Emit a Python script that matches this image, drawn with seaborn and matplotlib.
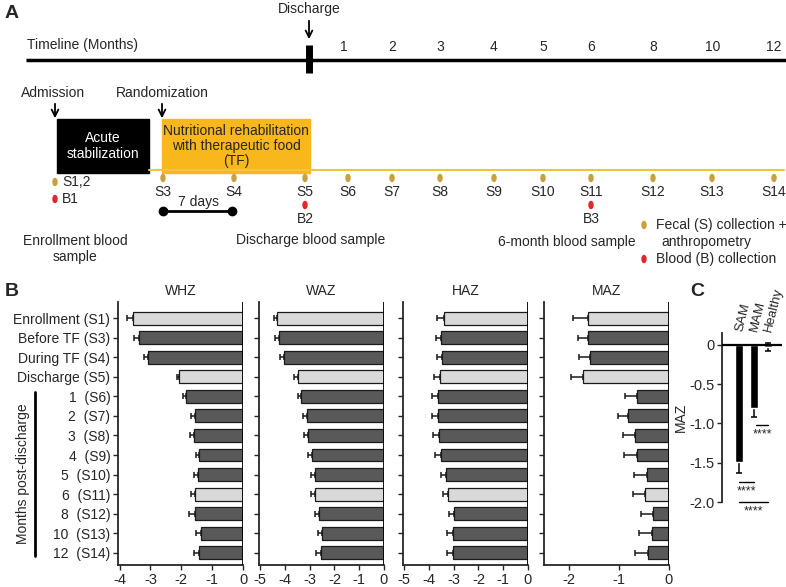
import numpy as np
import pandas as pd
import seaborn as sns
import matplotlib.pyplot as plt
from matplotlib.patches import Rectangle, Ellipse

# ---- data (panel B) ----
visits = ["Enrollment (S1)", "Before TF (S3)", "During TF (S4)", "Discharge (S5)",
          "1  (S6)", "2  (S7)", "3  (S8)", "4  (S9)", "5  (S10)", "6  (S11)",
          "8  (S12)", "10  (S13)", "12  (S14)"]
light_visits = ["Enrollment (S1)", "Discharge (S5)", "6  (S11)"]

whz = [-3.57, -3.38, -3.09, -2.07, -1.85, -1.55, -1.58, -1.42, -1.45, -1.55, -1.56, -1.37, -1.42]
whz_err = [0.20, 0.14, 0.13, 0.08, 0.11, 0.14, 0.13, 0.11, 0.13, 0.14, 0.18, 0.16, 0.18]

waz = [-4.33, -4.26, -4.06, -3.49, -3.36, -3.12, -3.08, -2.92, -2.79, -2.79, -2.63, -2.52, -2.56]
waz_err = [0.13, 0.13, 0.16, 0.13, 0.13, 0.16, 0.17, 0.17, 0.17, 0.17, 0.16, 0.16, 0.20]

haz = [-3.40, -3.50, -3.47, -3.54, -3.64, -3.63, -3.60, -3.51, -3.33, -3.22, -2.99, -3.02, -3.02]
haz_err = [0.27, 0.22, 0.20, 0.27, 0.23, 0.24, 0.23, 0.23, 0.20, 0.22, 0.19, 0.24, 0.24]

maz = [-1.63, -1.63, -1.59, -1.73, -0.63, -0.81, -0.67, -0.63, -0.44, -0.47, -0.31, -0.34, -0.42]
maz_err = [0.29, 0.20, 0.22, 0.23, 0.24, 0.20, 0.25, 0.26, 0.25, 0.24, 0.25, 0.25, 0.25]

# ---- data (panel C) ----
groups = ["SAM", "MAM", "Healthy"]
maz_group = [-1.49, -0.80, -0.03]
maz_group_err_low = [0.14, 0.12, 0.05]
maz_group_err_high = [0.0, 0.0, 0.05]

# ---- data (panel A timeline) ----
month_labels = ["1", "2", "3", "4", "5", "6", "8", "10", "12"]
sample_labels = ["S3", "S4", "S5", "S6", "S7", "S8", "S9", "S10", "S11", "S12", "S13", "S14"]

sns.set_style("ticks")
plt.rcParams["font.family"] = ["Liberation Sans", "DejaVu Sans"]
plt.rcParams["axes.unicode_minus"] = False
plt.rcParams["font.size"] = 10

fig = plt.figure(figsize=(7.86, 5.87), dpi=100)

# overlay in pixel units for the schematic and panel letters
ov = fig.add_axes([0, 0, 1, 1])
ov.set_xlim(0, 786)
ov.set_ylim(587, 0)
ov.axis("off")
ov.patch.set_alpha(0)

gold = "#c9a03c"
red = "#e3262b"
amber = "#f7b71d"

# panel letters
ov.text(5, 13, "A", fontsize=14, fontweight="bold", va="center")
ov.text(5, 292, "B", fontsize=14, fontweight="bold", va="center")
ov.text(690, 292, "C", fontsize=14, fontweight="bold", va="center")

# timeline
month_x = [344, 392, 440, 494, 543, 591, 653, 713, 774]
ov.plot([26, 786], [60, 60], color="black", lw=2.5, solid_capstyle="butt")
ov.plot([309, 309], [45, 73], color="black", lw=5, solid_capstyle="butt")
ov.text(27, 45, "Timeline (Months)", ha="left", va="center")
for lab, x in zip(month_labels, month_x):
    ov.text(x, 47, lab, ha="center", va="center")
ov.text(309, 9, "Discharge", ha="center", va="center")
ov.annotate("", xy=(309, 42), xytext=(309, 18),
            arrowprops=dict(arrowstyle="->", color="black", lw=1.3, mutation_scale=12))

# admission / randomization
ov.text(53, 93, "Admission", ha="center", va="center")
ov.annotate("", xy=(55, 121), xytext=(55, 101),
            arrowprops=dict(arrowstyle="->", color="black", lw=1.3, mutation_scale=12))
ov.text(162, 93, "Randomization", ha="center", va="center")
ov.annotate("", xy=(162, 121), xytext=(162, 101),
            arrowprops=dict(arrowstyle="->", color="black", lw=1.3, mutation_scale=12))

ov.plot([149, 784], [170, 170], color="#f2c342", lw=1.5)
ov.add_patch(Rectangle((57, 119), 92, 54, color="black"))
ov.text(103, 146, "Acute\nstabilization", color="white", ha="center", va="center",
        linespacing=1.2)
ov.add_patch(Rectangle((162, 119), 148, 54, color=amber))
ov.text(236, 146, "Nutritional rehabilitation\nwith therapeutic food\n(TF)",
        ha="center", va="center", linespacing=1.05)

# samples
sample_x = [163, 234, 305, 348, 392, 440, 494, 543, 591, 653, 712, 774]
ov.add_patch(Ellipse((55, 182), 4, 7, color=gold))
ov.text(62, 182, "S1,2", ha="left", va="center")
ov.add_patch(Ellipse((55, 199), 4, 7, color=red))
ov.text(62, 199, "B1", ha="left", va="center")
for lab, x in zip(sample_labels, sample_x):
    ov.add_patch(Ellipse((x, 178), 4, 7, color=gold))
    ov.text(x, 192, lab, ha="center", va="center")
for lab, x in [("B2", 305), ("B3", 591)]:
    ov.add_patch(Ellipse((x, 205), 4, 7, color=red))
    ov.text(x, 219, lab, ha="center", va="center")

ov.text(198, 202, "7 days", ha="center", va="center")
ov.plot([163, 232], [211, 211], color="black", lw=2, marker="o", ms=6)

ov.text(75, 249, "Enrollment blood\nsample", ha="center", va="center", linespacing=1.2)
ov.text(311, 240, "Discharge blood sample", ha="center", va="center")
ov.text(567, 242, "6-month blood sample", ha="center", va="center")

ov.add_patch(Ellipse((644, 225), 4, 7, color=gold))
ov.text(656, 225, "Fecal (S) collection +", ha="left", va="center")
ov.text(661, 242, "anthropometry", ha="left", va="center")
ov.add_patch(Ellipse((644, 259), 4, 7, color=red))
ov.text(656, 259, "Blood (B) collection", ha="left", va="center")

# months post-discharge bracket
ov.plot([35, 35], [392, 556], color="black", lw=2)
ov.text(23, 474, "Months post-discharge", rotation=90, ha="center", va="center")

# ---- panel B ----
palette = {v: ("#d9d9d9" if v in light_visits else "#595959") for v in visits}
panels = [
    ("WHZ", whz, whz_err, 118, (-4.05, 0), [-4, -3, -2, -1, 0]),
    ("WAZ", waz, waz_err, 259, (-5.05, 0), [-5, -4, -3, -2, -1, 0]),
    ("HAZ", haz, haz_err, 403, (-5.05, 0), [-5, -4, -3, -2, -1, 0]),
    ("MAZ", maz, maz_err, 544, (-2.5, 0), [-2, -1, 0]),
]
for i, (title, vals, errs, left_px, xlim, xticks) in enumerate(panels):
    ax = fig.add_axes([left_px / 786, 1 - 565 / 587, 125 / 786, 263 / 587])
    df = pd.DataFrame({"visit": visits, "value": vals})
    sns.barplot(data=df, x="value", y="visit", hue="visit", palette=palette,
                legend=False, orient="h", width=0.66, edgecolor="#1a1a1a",
                linewidth=0.9, ax=ax, zorder=2)
    ax.errorbar(vals, np.arange(len(visits)), xerr=[errs, np.zeros(len(errs))],
                fmt="none", ecolor="#1a1a1a", elinewidth=1.1, capsize=2.5,
                capthick=1.1, zorder=1)
    ax.set_xlim(*xlim)
    ax.set_ylim(12.62, -0.82)
    ax.set_xticks(xticks)
    ax.set_xticklabels([str(t) for t in xticks], fontsize=10.5)
    ax.axvline(0, color="black", lw=1.3, zorder=3)
    ax.set_xlabel("")
    ax.set_ylabel("")
    ax.set_title(title, fontsize=10, pad=5)
    sns.despine(ax=ax, top=True, right=True)
    for s in ["left", "bottom"]:
        ax.spines[s].set_linewidth(1.3)
    ax.tick_params(axis="both", length=3.5, width=1, pad=2)
    ax.set_yticks(range(len(visits)))
    if i == 0:
        ax.set_yticklabels(visits, fontsize=10)
    else:
        ax.set_yticklabels([])

# ---- panel C ----
axc = fig.add_axes([722 / 786, 1 - 502 / 587, 60 / 786, 169 / 587])
dfc = pd.DataFrame({"group": groups, "maz": maz_group})
sns.barplot(data=dfc, x="group", y="maz", color="black", width=0.55,
            ax=axc, zorder=2)
axc.errorbar(np.arange(len(groups)), maz_group,
             yerr=[maz_group_err_low, maz_group_err_high], fmt="none",
             ecolor="black", elinewidth=1.1, capsize=2.5, capthick=1.1, zorder=1)
axc.set_xlim(-1.2, 2.95)
axc.set_ylim(-2.0, 0.15)
axc.axhline(0, color="black", lw=1.6, zorder=3)
axc.set_yticks([-2.0, -1.5, -1.0, -0.5, 0])
axc.set_yticklabels(["-2.0", "-1.5", "-1.0", "-0.5", "0"], fontsize=10.5)
axc.set_ylabel("MAZ", fontsize=10, labelpad=1)
axc.set_xlabel("")
axc.xaxis.tick_top()
axc.set_xticks(range(len(groups)))
axc.set_xticklabels(groups, rotation=76, ha="left", va="center",
                    rotation_mode="anchor", fontsize=9.5)
axc.tick_params(axis="x", length=0, pad=1)
axc.tick_params(axis="y", length=3.5, width=1, pad=2)
for s in ["top", "right", "bottom"]:
    axc.spines[s].set_visible(False)
axc.spines["left"].set_linewidth(1.3)

# significance marks
sig = [(1.15, 2.0, -1.02), (-0.05, 1.0, -1.75), (-0.05, 2.0, -2.0)]
for x0, x1, y in sig:
    axc.plot([x0, x1], [y, y], color="black", lw=1, clip_on=False)
    axc.text((x0 + x1) / 2, y - 0.04, "****", ha="center", va="top",
             fontsize=9, clip_on=False)

fig.savefig("out.png", dpi=100)
